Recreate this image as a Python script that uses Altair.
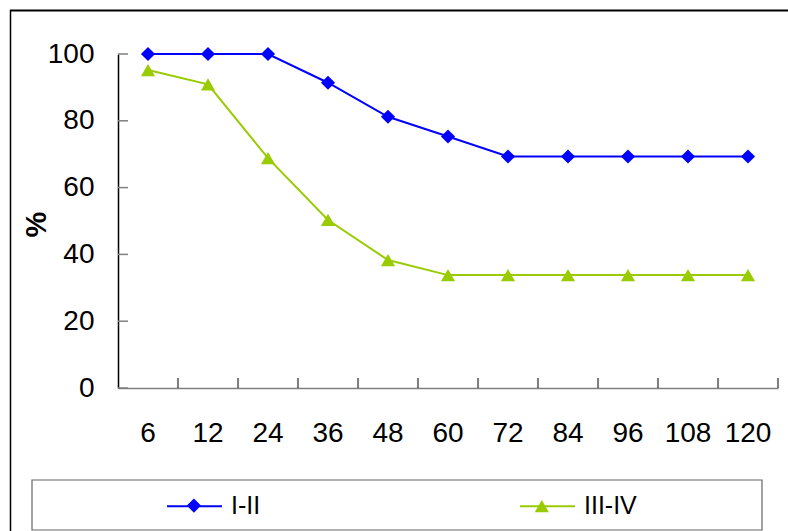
import altair as alt
import pandas as pd

months = ["6", "12", "24", "36", "48", "60", "72", "84", "96", "108", "120"]
series_names = ["I-II", "III-IV"]
vals_1_2 = [100, 100, 100, 91.4, 81.2, 75.3, 69.3, 69.3, 69.3, 69.3, 69.3]
vals_3_4 = [95.2, 90.9, 68.8, 50.3, 38.3, 33.8, 33.8, 33.8, 33.8, 33.8, 33.8]
y_ticks = [0, 20, 40, 60, 80, 100]
colors = ["#0000FF", "#99CC00"]
shapes = ["diamond", "triangle-up"]

rows = []
for name, vals in zip(series_names, [vals_1_2, vals_3_4]):
    for m, v in zip(months, vals):
        rows.append({"month": m, "value": v, "series": name, "series_pt": name})
df = pd.DataFrame(rows)

W, H = 660, 334
FONT = "Liberation Sans"

x_axis = alt.Axis(title=None, labelAngle=0, ticks=False, tickSize=0, labelPadding=31,
                  labelFontSize=28, labelFont=FONT, labelColor="black",
                  domainColor="#808080", domainWidth=1.5)
x_scale = alt.Scale(paddingInner=0, paddingOuter=0)
y_axis = alt.Axis(values=y_ticks, ticks=False, tickSize=0, grid=False, labelFontSize=28,
                  labelFont=FONT, labelColor="black", labelPadding=24,
                  domainColor="black", domainWidth=1.5,
                  title="%", titleFont=FONT, titleFontSize=29, titleFontWeight="bold",
                  titleAngle=270, titleX=-82, titleY=H / 2 + 3, titleBaseline="middle",
                  titleAlign="center", titleColor="black")
y_scale = alt.Scale(domain=[0, 100], nice=False)

x_main = alt.X("month:N", sort=months, scale=x_scale, axis=x_axis)
y_main = alt.Y("value:Q", scale=y_scale, axis=y_axis)

line_legend = alt.Legend(
    orient="none", legendX=48, legendY=423.5, direction="horizontal", title=None,
    symbolType="stroke", symbolSize=3025, symbolStrokeWidth=2, labelFontSize=25,
    labelFont=FONT, labelColor="black", labelOffset=8, columnPadding=255, padding=0,
)
pt_legend = alt.Legend(
    orient="none", legendX=68.4, legendY=443.9, direction="horizontal", title=None,
    symbolSize=200, symbolStrokeWidth=0, labelExpr="''", labelFontSize=1,
    labelOffset=0, columnPadding=332.9, padding=0,
)

lines = alt.Chart(df).mark_line(strokeWidth=2).encode(
    x=x_main, y=y_main,
    color=alt.Color("series:N", scale=alt.Scale(range=colors), legend=line_legend),
)
points = alt.Chart(df).mark_point(filled=True, size=200, opacity=1).encode(
    x=x_main, y=y_main,
    shape=alt.Shape("series_pt:N", scale=alt.Scale(range=shapes), legend=pt_legend),
    fill=alt.Fill("series_pt:N", scale=alt.Scale(range=colors), legend=pt_legend),
)

ytick_df = pd.DataFrame({"value": y_ticks})
yticks = alt.Chart(ytick_df).mark_rule(color="#808080", strokeWidth=1.5).encode(
    y=y_main, x=alt.value(0), x2=alt.value(10),
)
xtick_df = pd.DataFrame({"month": months})
xticks = alt.Chart(xtick_df).mark_rule(color="black", strokeWidth=1).encode(
    x=alt.X("month:N", sort=months, bandPosition=1, scale=x_scale, axis=x_axis),
    y=alt.value(H), y2=alt.value(H - 10),
)

one = pd.DataFrame({"a": [0]})
border_top = alt.Chart(one).mark_rule(color="black", strokeWidth=2).encode(
    x=alt.value(-108), x2=alt.value(670), y=alt.value(-43.5),
)
border_left = alt.Chart(one).mark_rule(color="black", strokeWidth=1.5).encode(
    x=alt.value(-107.5), y=alt.value(-44), y2=alt.value(500),
)
legend_box = alt.Chart(one).mark_rect(fillOpacity=0, stroke="#666666", strokeWidth=1.2).encode(
    x=alt.value(-86), x2=alt.value(644), y=alt.value(426), y2=alt.value(476),
)

chart = alt.layer(lines, points, yticks, xticks, border_top, border_left, legend_box).resolve_legend(
    color="independent", shape="independent", fill="independent"
).properties(
    width=W, height=H,
    padding={"left": 118, "top": 54, "right": 10, "bottom": 143},
    autosize=alt.AutoSizeParams(type="none"),
    background="white",
).configure_view(stroke=None)

chart.save("out.html", embed_options={"renderer": "svg", "actions": False})
